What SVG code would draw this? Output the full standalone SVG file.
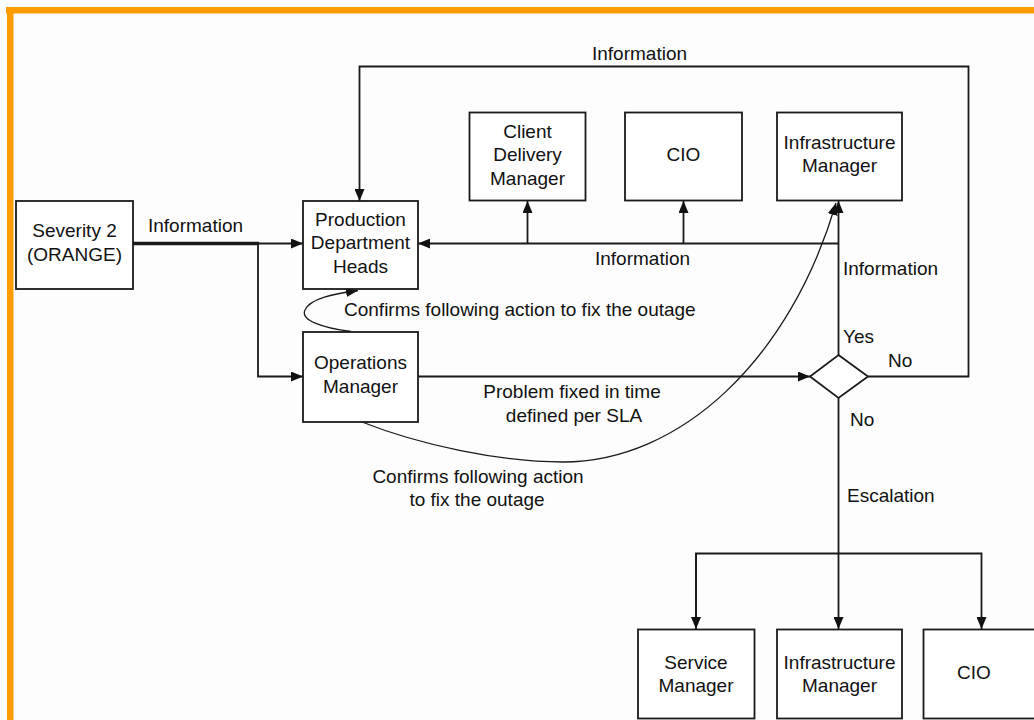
<svg xmlns="http://www.w3.org/2000/svg" width="1034" height="720" viewBox="0 0 1034 720">
<style>
.box{fill:#fff;stroke:#1a1a1a;stroke-width:1.8}
.ln{fill:none;stroke:#1a1a1a;stroke-width:1.8}
.cv{fill:none;stroke:#1a1a1a;stroke-width:1.3}
text{font-family:"Liberation Sans",Arial,sans-serif;font-size:19px;fill:#111}
.c{text-anchor:middle}
</style>
<defs>
<marker id="ah" viewBox="0 0 12 10" refX="12" refY="5" markerWidth="12" markerHeight="10" markerUnits="userSpaceOnUse" orient="auto">
<path d="M0,0 L12,5 L0,10 z" fill="#111"/>
</marker>
</defs>
<rect width="1034" height="720" fill="#fdfdfd"/>
<rect x="6" y="7" width="1028" height="6.5" fill="#ff9c00"/>
<rect x="7" y="7" width="6.5" height="713" fill="#ff9c00"/>

<g id="connectors">
<line x1="133" y1="243.5" x2="259" y2="243.5" stroke="#1a1a1a" stroke-width="3.5"/>
<path class="ln" d="M258,243.5 H303" marker-end="url(#ah)"/>
<path class="ln" d="M258,243.5 V376.5 H303" marker-end="url(#ah)"/>
<path class="ln" d="M838.5,243.5 H418" marker-end="url(#ah)"/>
<path class="ln" d="M527.5,243.5 V201" marker-end="url(#ah)"/>
<path class="ln" d="M683.5,243.5 V201" marker-end="url(#ah)"/>
<path class="ln" d="M838.5,355 V201" marker-end="url(#ah)"/>
<path class="ln" d="M868,376.5 H968.5 V66.5 H359.5 V201" marker-end="url(#ah)"/>
<path class="ln" d="M418,376.5 H810" marker-end="url(#ah)"/>
<path class="ln" d="M838.5,398 V629" marker-end="url(#ah)"/>
<path class="ln" d="M696,629 V553.5 H981.5 V629" marker-end="url(#ah)"/>
<path class="ln" d="M696,553.5 V629" marker-end="url(#ah)"/>
<path class="cv" d="M351,331.5 C322,328 300,320 305,310 C310,299 332,294 358,290.5" marker-end="url(#ah)"/>
<path class="cv" d="M362,422 C420,445 500,462 563,462 C680,462 790,360 836,203" marker-end="url(#ah)"/>
</g>

<g id="labels">
<text x="148" y="232">Information</text>
<text x="592" y="60">Information</text>
<text x="595" y="265">Information</text>
<text x="843" y="275">Information</text>
<text x="344" y="316">Confirms following action to fix the outage</text>
<text class="c" x="572" y="398">Problem fixed in time</text>
<text class="c" x="574" y="421.5">defined per SLA</text>
<text class="c" x="478" y="483">Confirms following action</text>
<text class="c" x="477" y="506">to fix the outage</text>
<text x="843" y="343">Yes</text>
<text x="888" y="367">No</text>
<text x="850" y="426">No</text>
<text x="847" y="502">Escalation</text>
</g>

<g id="decision">
<path class="box" d="M838.5,355 L868,376.5 L838.5,398 L810,376.5 z"/>
</g>

<g id="severity2">
<rect class="box" x="16" y="201" width="117" height="88"/>
<text class="c" x="74.5" y="236.5">Severity 2</text>
<text class="c" x="74.5" y="260.5">(ORANGE)</text>
</g>
<g id="production">
<rect class="box" x="303" y="201" width="115" height="88"/>
<text class="c" x="360.5" y="225.5">Production</text>
<text class="c" x="360.5" y="249">Department</text>
<text class="c" x="360.5" y="272.5">Heads</text>
</g>
<g id="operations">
<rect class="box" x="303" y="332" width="115" height="90"/>
<text class="c" x="360.5" y="369">Operations</text>
<text class="c" x="360.5" y="392.5">Manager</text>
</g>
<g id="clientDelivery">
<rect class="box" x="469.5" y="112.5" width="116" height="88"/>
<text class="c" x="527.5" y="137.5">Client</text>
<text class="c" x="527.5" y="161">Delivery</text>
<text class="c" x="527.5" y="184.5">Manager</text>
</g>
<g id="cioTop">
<rect class="box" x="625" y="112.5" width="117" height="88"/>
<text class="c" x="683.5" y="161">CIO</text>
</g>
<g id="infraTop">
<rect class="box" x="777" y="112.5" width="125" height="88"/>
<text class="c" x="839.5" y="148.5">Infrastructure</text>
<text class="c" x="839.5" y="172">Manager</text>
</g>
<g id="serviceManager">
<rect class="box" x="638" y="629.5" width="116.5" height="89"/>
<text class="c" x="696" y="668.5">Service</text>
<text class="c" x="696" y="692">Manager</text>
</g>
<g id="infraBottom">
<rect class="box" x="777" y="629.5" width="125" height="89"/>
<text class="c" x="839.5" y="668.5">Infrastructure</text>
<text class="c" x="839.5" y="692">Manager</text>
</g>
<g id="cioBottom">
<rect class="box" x="923.5" y="629.5" width="120" height="89"/>
<text class="c" x="974" y="678.5">CIO</text>
</g>
</svg>
